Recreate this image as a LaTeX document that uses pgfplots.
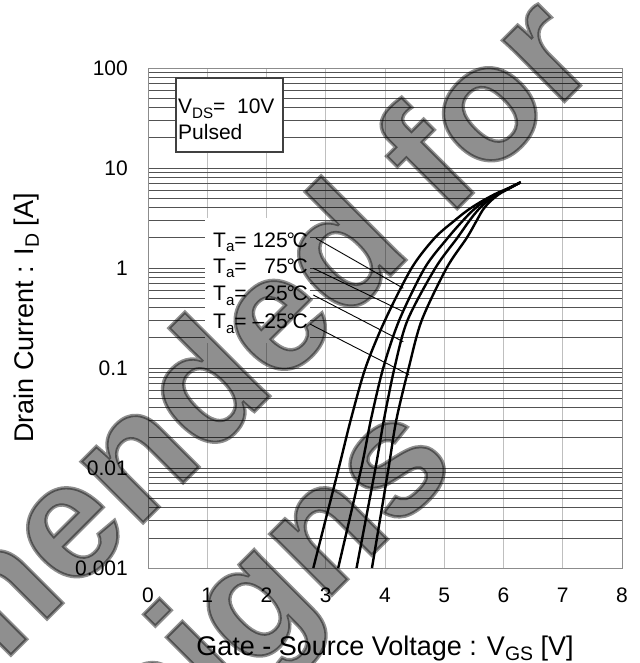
\documentclass[border=0pt]{standalone}
\usepackage{fontspec}
\setmainfont{Liberation Sans}
\newfontfamily\wmfamily{Liberation Sans Bold}[FakeBold=2]
\usepackage{pgfplots}
\pgfplotsset{compat=1.18}

\newcommand{\sub}[1]{\raisebox{-0.22em}{\scalebox{0.72}{#1}}}
\newcommand{\tickfont}{\fontsize{21bp}{21bp}\selectfont}
\newcommand{\labfont}{\fontsize{27bp}{27bp}\selectfont}
\newcommand{\notefont}{\fontsize{21bp}{21bp}\selectfont}
\newcommand{\wmfont}{\wmfamily\fontsize{165bp}{165bp}\selectfont}
\newcommand{\degC}{\kern-1bp°\kern-2.5bp C}

\begin{document}
\begin{tikzpicture}
\begin{axis}[
  at={(148bp,95bp)}, anchor=south west,
  scale only axis, width=474bp, height=500bp,
  xmin=0, xmax=8, ymode=log, ymin=0.001, ymax=100,
  xtick={0,1,...,8}, xticklabels={0,1,2,3,4,5,6,7,8},
  ytick={0.001,0.01,0.1,1,10,100}, yticklabels={0.001,0.01,0.1,1,10,100},
  xmajorgrids, ymajorgrids, yminorgrids,
  major x grid style={black!25, line width=0.8bp},
  major y grid style={black!68, line width=0.8bp},
  minor y grid style={black!68, line width=0.8bp},
  major tick length=0pt, minor tick length=0pt,
  axis line style={black!45, line width=0.8bp},
  tick label style={font=\tickfont},
  xticklabel style={anchor=north, inner sep=0pt, yshift=-20bp},
  yticklabel style={anchor=east, inner sep=0pt, xshift=-20bp},
  xlabel={Gate - Source Voltage : V\sub{GS} [V]},
  ylabel={Drain Current : I\sub{D} [A]},
  label style={font=\labfont},
  xlabel style={at={(axis description cs:0.5,-0.174)}, anchor=base},
  ylabel style={at={(axis description cs:-0.2426,0.5)}, anchor=base},
]

% Ta = 125 C
\addplot[black, line width=2.4bp, smooth] coordinates {
  (2.79,0.001) (3.22,0.01) (3.42,0.03) (3.67,0.1) (4.00,0.3)
  (4.45,1) (4.84,2) (5.18,3) (5.40,3.8) (5.62,4.6) (5.86,5.5) (6.06,6.2) (6.29,7.2)};
% Ta = 75 C
\addplot[black, line width=2.4bp, smooth] coordinates {
  (3.21,0.001) (3.60,0.01) (3.76,0.03) (3.97,0.1) (4.24,0.3)
  (4.67,1) (5.06,2) (5.32,3) (5.49,3.8) (5.67,4.6) (5.89,5.5) (6.07,6.2) (6.29,7.2)};
% Ta = 25 C
\addplot[black, line width=2.4bp, smooth] coordinates {
  (3.52,0.001) (3.84,0.01) (3.98,0.03) (4.16,0.1) (4.38,0.3)
  (4.85,1) (5.22,2) (5.43,3) (5.57,3.8) (5.72,4.6) (5.91,5.5) (6.08,6.2) (6.29,7.2)};
% Ta = -25 C
\addplot[black, line width=2.4bp, smooth] coordinates {
  (3.78,0.001) (4.06,0.01) (4.19,0.03) (4.40,0.1) (4.62,0.3)
  (5.04,1) (5.38,2) (5.55,3) (5.65,3.8) (5.77,4.6) (5.93,5.5) (6.09,6.2) (6.29,7.2)};

% leader lines
\addplot[black, line width=0.9bp] coordinates {(2.835,1.98) (4.309,0.627)};
\addplot[black, line width=0.9bp] coordinates {(2.79,0.993) (4.309,0.366)};
\addplot[black, line width=0.9bp] coordinates {(2.79,0.537) (4.309,0.183)};
\addplot[black, line width=0.9bp] coordinates {(2.734,0.275) (4.41,0.0851)};

\end{axis}

% condition box
\draw[black!75, line width=1.3bp, fill=white] (176bp,511bp) rectangle (283bp,585bp);
\node[anchor=base west, inner sep=0pt, font=\notefont] at (178bp,549.5bp) {V\sub{DS}=\ \ 10V};
\node[anchor=base west, inner sep=0pt, font=\notefont] at (178bp,523.5bp) {Pulsed};

% temperature labels
\fill[white] (205bp,320bp) rectangle (310bp,445bp);
\foreach \yy/\tt in {415.7/125, 389.7/75, 362.5/25, 334/–25}{
  \node[anchor=base west, inner sep=0pt, font=\notefont] at (213bp,\yy bp) {T\sub{a}=};
  \node[anchor=base east, inner sep=0pt, font=\notefont] at (308bp,\yy bp) {\tt\degC};
}

% watermark
\node[rotate=45, anchor=base east, inner sep=0pt, font=\wmfont, text=black, opacity=0.44] at (602bp,599bp) {Not recommended for};
\node[rotate=45, anchor=base east, inner sep=0pt, font=\wmfont, text=black, opacity=0.44] at (460bp,196bp) {new designs};

\pgfresetboundingbox
\useasboundingbox (0,0) rectangle (640bp,663bp);
\end{tikzpicture}
\end{document}
